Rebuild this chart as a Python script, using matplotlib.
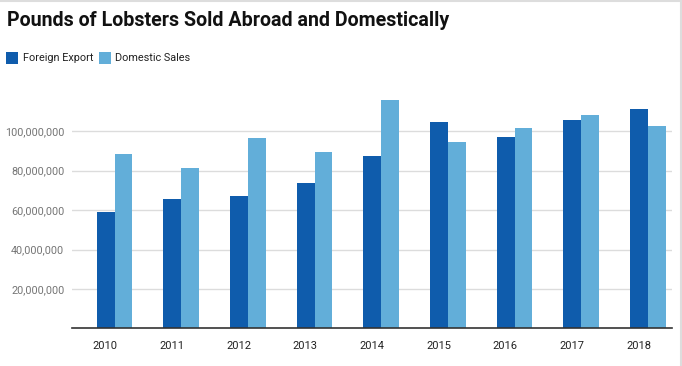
import matplotlib.pyplot as plt
import matplotlib.ticker as mticker
from matplotlib.patches import Rectangle
import numpy as np

plt.rcParams['font.family'] = ['Roboto', 'DejaVu Sans']

# data
years = ['2010', '2011', '2012', '2013', '2014', '2015', '2016', '2017', '2018']
foreign_export = [59.0e6, 65.6e6, 67.2e6, 73.8e6, 87.5e6, 104.7e6, 97.1e6, 105.7e6, 111.3e6]
domestic_sales = [88.5e6, 81.4e6, 96.6e6, 89.5e6, 115.9e6, 94.6e6, 101.7e6, 108.3e6, 102.7e6]
y_ticks = [20e6, 40e6, 60e6, 80e6, 100e6]

dark_blue = '#0f5cac'
light_blue = '#62aed9'

fig = plt.figure(figsize=(6.82, 3.66), dpi=100)
ax = fig.add_axes([72 / 682, 1 - 328.3 / 366, 600 / 682, 236.4 / 366])

x = np.arange(len(years))
w = 0.272
ax.bar(x - 0.13, foreign_export, width=w, align='edge', color=dark_blue,
       linewidth=0, zorder=3)
ax.bar(x - 0.13 + w, domestic_sales, width=w - 0.008, align='edge', color=light_blue,
       linewidth=0, zorder=3)

ax.set_xlim(-0.5, len(years) - 0.5)
ax.set_ylim(0, 120e6)
ax.set_yticks(y_ticks)
ax.yaxis.set_major_formatter(mticker.FuncFormatter(lambda v, p: f'{int(v):,}'))
ax.set_xticks(x)
ax.set_xticklabels(years)

ax.grid(axis='y', color='#dcdcdc', linewidth=1, zorder=0)
for s in ['top', 'right', 'left']:
    ax.spines[s].set_visible(False)
ax.spines['bottom'].set_color('#333333')
ax.spines['bottom'].set_linewidth(1.2)
ax.spines['bottom'].set_zorder(4)

ax.tick_params(axis='y', length=0, pad=5.5, labelsize=7.8, labelcolor='#757575')
ax.tick_params(axis='x', length=0, pad=9, labelsize=8, labelcolor='#222222')

# title and legend
fig.text(7 / 682, 1 - 20 / 366, 'Pounds of Lobsters Sold Abroad and Domestically',
         fontsize=14.15, fontweight='bold', color='#111111', va='center', ha='left')

legend_items = [('Foreign Export', dark_blue, 6, 22.7), ('Domestic Sales', light_blue, 99.3, 115.3)]
for label, col, sx, tx in legend_items:
    fig.patches.append(Rectangle((sx / 682, 1 - 63.5 / 366), 12 / 682, 11.5 / 366,
                                 transform=fig.transFigure, color=col, linewidth=0))
    fig.text(tx / 682, 1 - 58 / 366, label, fontsize=7.8, color='#222222',
             va='center', ha='left')

# light frame on the top and right edges
fig.add_artist(plt.Line2D([0, 1], [0.997, 0.997], transform=fig.transFigure,
                          color='#dddddd', linewidth=1.5))
fig.add_artist(plt.Line2D([681 / 682, 681 / 682], [0, 1], transform=fig.transFigure,
                          color='#dddddd', linewidth=1.5))

fig.savefig('out.png', dpi=100)
